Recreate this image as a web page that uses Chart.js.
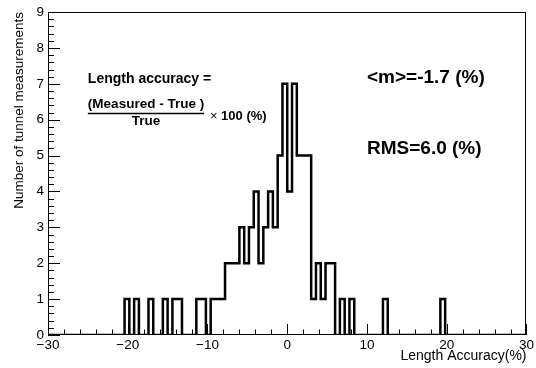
<!DOCTYPE html>
<html>
<head>
<meta charset="utf-8">
<script src="https://cdn.jsdelivr.net/npm/chart.js@4"></script>
<style>
  html, body { margin: 0; padding: 0; background: #fff; }
  #wrap { width: 536px; height: 368px; }
</style>
</head>
<body>
<div id="wrap"><canvas id="c" width="536" height="368"></canvas></div>
<script>
// Histogram binning: 100 bins over [-30, 30] (%)
const xMin = -30;
const xMax = 30;
const nBins = 100;

// Entries per bin, 20 bins per row
const counts = [
  0, 0, 0, 0, 0, 0, 0, 0, 0, 0, 0, 0, 0, 0, 0, 0, 1, 0, 1, 0,
  0, 1, 0, 0, 1, 0, 1, 1, 0, 0, 0, 1, 1, 0, 1, 1, 1, 2, 2, 2,
  3, 2, 3, 4, 2, 3, 4, 3, 5, 7, 4, 7, 5, 5, 5, 1, 2, 1, 2, 2,
  0, 1, 0, 1, 0, 0, 0, 0, 0, 0, 1, 0, 0, 0, 0, 0, 0, 0, 0, 0,
  0, 0, 1, 0, 0, 0, 0, 0, 0, 0, 0, 0, 0, 0, 0, 0, 0, 0, 0, 0
];

// Axis labelling
const xTickValues = [-30, -20, -10, 0, 10, 20, 30];
const yTickValues = [0, 1, 2, 3, 4, 5, 6, 7, 8, 9];
const xTitle = 'Length Accuracy(%)';
const yTitle = 'Number of tunnel measurements';

// Summary statistics shown on the plot
const meanText = '<m>=-1.7 (%)';
const rmsText = 'RMS=6.0 (%)';

const FONT = '"Liberation Sans", Arial, Helvetica, sans-serif';
const binWidth = (xMax - xMin) / nBins;

// Step outline: point i sits on the high edge of bin i-1; 'before' stepping
// keeps each segment at the previous point's count, so bin i spans [lo_i, hi_i].
const points = [{ x: xMin, y: counts[0] }];
counts.forEach((c, i) => points.push({ x: xMin + (i + 1) * binWidth, y: i + 1 < counts.length ? counts[i + 1] : c }));

function fmtTick(v) {
  return v < 0 ? '\u2212' + Math.abs(v) : String(v);
}

// ROOT-style frame, inward tick marks and text annotations
const rootFrame = {
  id: 'rootFrame',
  afterDraw(chart) {
    const { ctx, chartArea: a, scales: { x, y } } = chart;
    ctx.save();
    ctx.strokeStyle = '#000';
    ctx.lineWidth = 1;

    // frame box
    ctx.strokeRect(Math.round(a.left) + 0.5, Math.round(a.top) + 0.5,
                   Math.round(a.right - a.left) - 1, Math.round(a.bottom - a.top) - 1);

    // x ticks: major every 10, minor every 2
    ctx.beginPath();
    for (let k = 0; k <= 30; k++) {
      const v = xMin + 2 * k;
      const px = Math.round(x.getPixelForValue(v)) + 0.5;
      const len = (k % 5 === 0) ? 11 : 5.5;
      ctx.moveTo(px, a.bottom);
      ctx.lineTo(px, a.bottom - len);
    }
    // y ticks: major every 1, minor every 0.2
    for (let k = 0; k <= 45; k++) {
      const v = k * 0.2;
      const py = Math.round(y.getPixelForValue(v)) + 0.5;
      const len = (k % 5 === 0) ? 12 : 6;
      ctx.moveTo(a.left, py);
      ctx.lineTo(a.left + len, py);
    }
    ctx.stroke();

    // formula for the plotted quantity
    ctx.fillStyle = '#000';
    ctx.textBaseline = 'middle';
    ctx.textAlign = 'left';
    ctx.font = 'bold 14px ' + FONT;
    ctx.fillText('Length accuracy =', x.getPixelForValue(-25), y.getPixelForValue(7.14));

    ctx.font = 'bold 13.5px ' + FONT;
    const numText = '(Measured - True )';
    const numX = x.getPixelForValue(-25);
    const numW = ctx.measureText(numText).width;
    ctx.fillText(numText, numX, y.getPixelForValue(6.44));
    ctx.textAlign = 'center';
    ctx.fillText('True', numX + numW / 2, y.getPixelForValue(5.95));
    ctx.lineWidth = 1.5;
    ctx.beginPath();
    const barY = Math.round(y.getPixelForValue(6.2)) + 0.5;
    ctx.moveTo(numX, barY);
    ctx.lineTo(numX + numW, barY);
    ctx.stroke();

    ctx.textAlign = 'left';
    ctx.font = '13px ' + FONT;
    const timesX = x.getPixelForValue(-9.7);
    const midY = y.getPixelForValue(6.1);
    ctx.fillText('\u00d7', timesX, midY);
    const tw = ctx.measureText('\u00d7 ').width;
    ctx.font = 'bold 13px ' + FONT;
    ctx.fillText('100 (%)', timesX + tw, midY);

    // mean and RMS
    ctx.font = 'bold 19px ' + FONT;
    ctx.fillText(meanText, x.getPixelForValue(10), y.getPixelForValue(7.16));
    ctx.fillText(rmsText, x.getPixelForValue(10), y.getPixelForValue(5.18));
    ctx.restore();
  }
};

new Chart(document.getElementById('c'), {
  type: 'line',
  data: {
    datasets: [{
      data: points,
      stepped: 'before',
      borderColor: '#000',
      borderWidth: 2.5,
      borderJoinStyle: 'miter',
      borderCapStyle: 'butt',
      pointRadius: 0,
      fill: false,
      tension: 0
    }]
  },
  options: {
    responsive: false,
    animation: false,
    devicePixelRatio: 1,
    layout: { padding: { top: 8, right: 9, left: 0, bottom: 0 } },
    plugins: { legend: { display: false }, tooltip: { enabled: false } },
    scales: {
      x: {
        type: 'linear',
        min: xMin,
        max: xMax,
        afterFit(s) { s.height = 33; },
        afterBuildTicks(s) { s.ticks = xTickValues.map(v => ({ value: v })); },
        grid: { display: false, drawTicks: false },
        border: { display: false },
        ticks: {
          autoSkip: false,
          maxRotation: 0,
          padding: 2,
          color: '#000',
          font: { family: FONT, size: 13.5 },
          callback: v => fmtTick(v)
        },
        title: {
          display: true,
          text: xTitle,
          align: 'end',
          color: '#000',
          font: { family: FONT, size: 14 },
          padding: { top: 0, bottom: 3 }
        }
      },
      y: {
        type: 'linear',
        min: 0,
        max: 9,
        afterFit(s) { s.width = 48; },
        afterBuildTicks(s) { s.ticks = yTickValues.map(v => ({ value: v })); },
        grid: { display: false, drawTicks: false },
        border: { display: false },
        ticks: {
          autoSkip: false,
          padding: 4,
          color: '#000',
          font: { family: FONT, size: 13.5 },
          callback: v => String(v)
        },
        title: {
          display: true,
          text: yTitle,
          align: 'end',
          color: '#000',
          font: { family: FONT, size: 13.5 },
          padding: { top: 11, bottom: 0 }
        }
      }
    }
  },
  plugins: [rootFrame]
});
</script>
</body>
</html>
